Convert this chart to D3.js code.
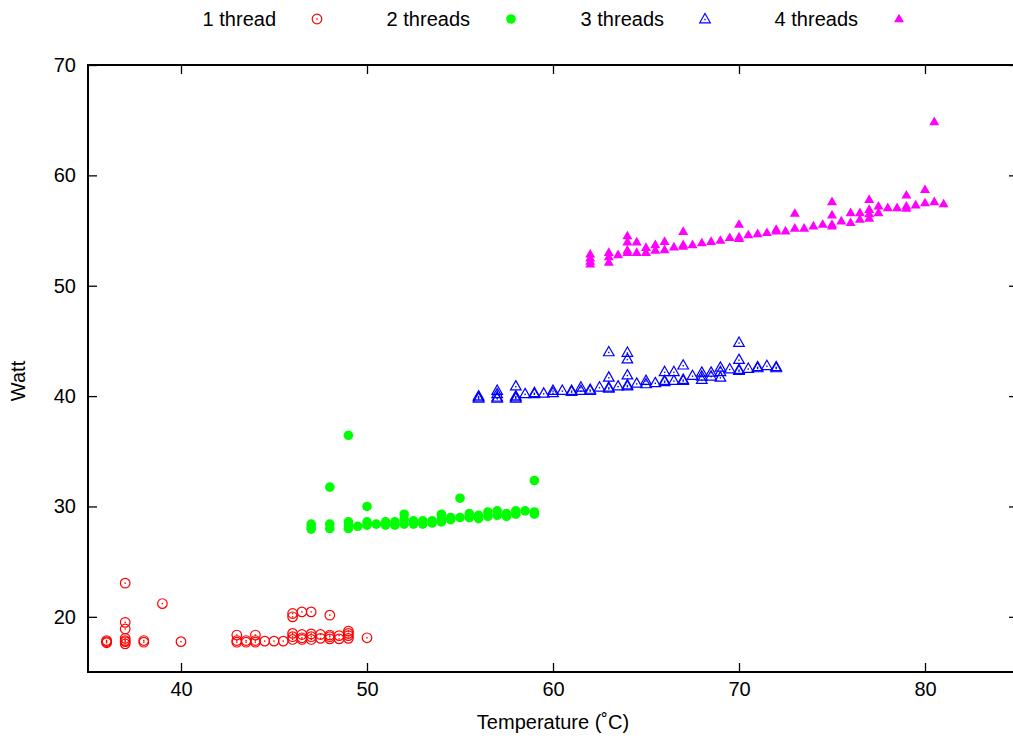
<!DOCTYPE html>
<html>
<head>
  <meta charset='utf-8'>
  <title>Watt vs Temperature</title>
  <script src="https://cdn.jsdelivr.net/npm/d3@7"></script>
  <style>
    body { margin: 0; background: #fff; }
    text { font-family: "Liberation Sans", Arial, sans-serif; font-size: 20px; fill: #000; }
  </style>
</head>
<body>
  <svg width="1013" height="738" id="chart"></svg>
  <script>

    // [temperature, watt] pairs
    const oneThread = [
      [36, 17.65], [36, 17.75], [36, 17.85],
      [37, 23.05], [37, 19.5], [37, 18.9], [37, 18.05], [37, 17.85], [37, 17.75], [37, 17.55],
      [38, 17.7], [38, 17.85], [39, 21.2], [40, 17.75],
      [43, 18.35], [43, 17.7], [43, 17.85], [43.5, 17.7], [43.5, 17.85],
      [44, 18.35], [44, 17.7], [44, 17.85], [44.5, 17.8], [45, 17.8], [45.5, 17.8],
      [46, 20.3], [46, 20.0], [46, 18.5], [46, 18.2], [46, 17.95],
      [46.5, 20.45], [46.5, 18.4], [46.5, 18.1], [46.5, 17.95],
      [47, 20.45], [47, 18.45], [47, 18.2], [47, 17.95],
      [47.5, 18.4], [47.5, 18.05],
      [48, 20.15], [48, 18.35], [48, 18.2], [48, 18.0],
      [48.5, 18.3], [48.5, 18.0],
      [49, 18.7], [49, 18.5], [49, 18.3], [49, 18.05],
      [50, 18.1]
    ];

    const twoThreads = [
      [47, 28.4], [47, 28.1], [47, 27.95],
      [48, 31.75], [48, 28.4], [48, 28.0],
      [49, 36.45], [49, 28.6], [49, 28.3], [49, 28.0],
      [49.5, 28.2], [50, 30.0], [50, 28.6], [50, 28.3],
      [50.5, 28.4], [51, 28.6], [51, 28.3], [51.5, 28.6], [51.5, 28.3],
      [52, 29.3], [52, 28.8], [52, 28.4], [52.5, 28.7], [52.5, 28.4],
      [53, 28.7], [53, 28.4], [53.5, 28.7], [53.5, 28.5],
      [54, 29.3], [54, 28.9], [54, 28.6], [54.5, 29.0], [54.5, 28.8],
      [55, 30.75], [55, 29.0], [55.5, 29.35], [55.5, 29.0],
      [56, 29.2], [56, 28.9], [56.5, 29.5], [56.5, 29.1],
      [57, 29.6], [57, 29.2], [57.5, 29.35], [57.5, 29.1],
      [58, 29.6], [58, 29.3], [58.5, 29.6],
      [59, 32.35], [59, 29.5], [59, 29.3]
    ];

    const threeThreads = [
      [56, 40.0], [56, 39.9], [56, 39.8], [57, 40.5], [57, 40.2], [57, 39.9], [57, 39.8],
      [58, 40.9], [58, 40.0], [58, 39.9], [58, 39.8], [58.5, 40.2], [59, 40.3], [59, 40.2],
      [59.5, 40.25], [60, 40.5], [60, 40.3], [60.5, 40.5], [61, 40.5], [61, 40.4],
      [61.5, 40.8], [61.5, 40.5], [62, 40.6], [62, 40.5], [62.5, 40.8],
      [63, 44.0], [63, 41.7], [63, 40.8], [63, 40.7], [63.5, 40.9],
      [64, 43.95], [64, 43.35], [64, 41.9], [64, 41.0], [64, 40.9], [64.5, 41.15],
      [65, 41.4], [65, 41.1], [65.5, 41.2],
      [66, 42.2], [66, 41.4], [66, 41.3], [66.5, 42.2], [66.5, 41.4],
      [67, 42.8], [67, 41.5], [67, 41.4], [67.5, 41.85],
      [68, 42.15], [68, 41.8], [68, 41.5], [68.5, 42.15], [68.5, 41.8],
      [69, 42.6], [69, 42.2], [69, 41.7], [69.5, 42.45],
      [70, 44.85], [70, 43.3], [70, 42.4], [70, 42.3], [70.5, 42.5],
      [71, 42.65], [71, 42.55], [71.5, 42.75], [72, 42.65], [72, 42.55]
    ];

    const fourThreads = [
      [62, 52.85], [62, 52.5], [62, 52.2], [62, 51.95],
      [63, 53.0], [63, 52.6], [63, 52.1], [63.5, 52.8],
      [64, 54.5], [64, 53.95], [64, 53.2], [64, 53.0],
      [64.5, 53.95], [64.5, 53.0], [65, 53.45], [65, 53.0],
      [65.5, 53.7], [65.5, 53.2], [66, 54.0], [66, 53.25], [66.5, 53.5],
      [67, 54.9], [67, 53.7], [67, 53.55], [67.5, 53.7], [68, 53.87], [68.5, 54.0],
      [69, 54.1], [69.5, 54.35], [70, 55.55], [70, 54.4], [70, 54.25], [70.5, 54.6],
      [71, 54.7], [71.5, 54.8], [72, 55.1], [72, 54.95], [72.5, 54.95],
      [73, 56.55], [73, 55.2], [73.5, 55.2], [74, 55.4], [74.5, 55.55],
      [75, 57.6], [75, 56.4], [75, 55.55], [75, 55.4], [75.5, 55.85],
      [76, 56.6], [76, 55.7], [76.5, 56.6], [76.5, 56.0],
      [77, 57.8], [77, 56.9], [77, 56.5], [77, 56.1], [77.5, 57.2], [77.5, 56.6],
      [78, 57.05], [78.5, 57.05], [79, 58.2], [79, 57.2], [79, 57.0], [79.5, 57.3],
      [80, 58.7], [80, 57.5], [80.5, 64.85], [80.5, 57.6], [81, 57.4]
    ];

    const seriesNames = ["1 thread", "2 threads", "3 threads", "4 threads"];
    const seriesData = [oneThread, twoThreads, threeThreads, fourThreads];
    const xTicks = [40, 50, 60, 70, 80];
    const yTicks = [20, 30, 40, 50, 60, 70];

    const plotLeft = 88, plotRight = 1018, plotTop = 65, plotBottom = 672;
    const tick = 9;

    const svg = d3.select('#chart');

    const x = d3.scaleLinear().domain([35, 85]).range([plotLeft, plotRight]);
    const y = d3.scaleLinear().domain([15, 70]).range([plotBottom, plotTop]);

    // marker styles: open circle w/ dot, filled circle, open triangle w/ dot, filled triangle
    const colors = ["#ff0000", "#00ff00", "#0000ff", "#ff00ff"];
    const triUp = "M0,-5.5L5.3,3.8L-5.3,3.8Z";
    const triFill = "M0,-5.3L5,3.3L-5,3.3Z";

    function marker(g, i) {
      const c = colors[i];
      if (i === 0) {
        g.append('circle').attr('r', 4.8).attr('fill', 'none').attr('stroke', c).attr('stroke-width', 1.2);
        g.append('rect').attr('x', -0.7).attr('y', -0.7).attr('width', 1.4).attr('height', 1.4).attr('fill', c);
      } else if (i === 1) {
        g.append('circle').attr('r', 4.8).attr('fill', c);
      } else if (i === 2) {
        g.append('path').attr('d', triUp).attr('fill', 'none').attr('stroke', c).attr('stroke-width', 1.2);
        g.append('rect').attr('x', -0.7).attr('y', -0.2).attr('width', 1.4).attr('height', 1.4).attr('fill', c);
      } else {
        g.append('path').attr('d', triFill).attr('fill', c);
      }
    }

    // points
    seriesData.forEach((data, i) => {
      svg.append('g')
        .selectAll('g')
        .data(data)
        .join('g')
        .attr('transform', d => `translate(${x(d[0])},${y(d[1])})`)
        .each(function () { marker(d3.select(this), i); });
    });

    // axes, ticks inward on all four sides
    const styleAxis = g => {
      g.select('.domain').remove();
      g.selectAll('.tick line').attr('stroke', '#000').attr('stroke-width', 1.3);
      g.selectAll('.tick text').style('font-size', '20px').attr('fill', '#000');
    };

    svg.append('g').attr('transform', `translate(0,${plotBottom})`)
      .call(d3.axisBottom(x).tickValues(xTicks).tickSizeInner(-tick).tickSizeOuter(0).tickPadding(10))
      .call(styleAxis);
    svg.append('g').attr('transform', `translate(0,${plotTop})`)
      .call(d3.axisTop(x).tickValues(xTicks).tickSizeInner(-tick).tickSizeOuter(0).tickFormat(''))
      .call(styleAxis);
    svg.append('g').attr('transform', `translate(${plotLeft},0)`)
      .call(d3.axisLeft(y).tickValues(yTicks).tickSizeInner(-tick).tickSizeOuter(0).tickPadding(12))
      .call(styleAxis);
    svg.append('g').attr('transform', `translate(${plotRight},0)`)
      .call(d3.axisRight(y).tickValues(yTicks).tickSizeInner(-tick).tickSizeOuter(0).tickFormat(''))
      .call(styleAxis);

    svg.selectAll('text').attr('font-family', '"Liberation Sans", Arial, sans-serif');

    svg.append('rect')
      .attr('x', plotLeft).attr('y', plotTop)
      .attr('width', plotRight - plotLeft).attr('height', plotBottom - plotTop)
      .attr('fill', 'none').attr('stroke', '#000').attr('stroke-width', 2);

    // axis labels
    svg.append('text')
      .attr('x', (plotLeft + plotRight) / 2).attr('y', 729)
      .attr('text-anchor', 'middle')
      .text('Temperature (˚C)');

    svg.append('text')
      .attr('transform', 'translate(25,381) rotate(-90)')
      .attr('text-anchor', 'middle')
      .text('Watt');

    // legend
    const legend = svg.append('g');
    seriesNames.forEach((name, i) => {
      const lx = 276 + i * 194;
      legend.append('text')
        .attr('x', lx).attr('y', 26)
        .attr('text-anchor', 'end')
        .text(name);
      const m = legend.append('g').attr('transform', `translate(${lx + 41},19)`);
      marker(m, i);
    });

  </script>
</body>
</html>
